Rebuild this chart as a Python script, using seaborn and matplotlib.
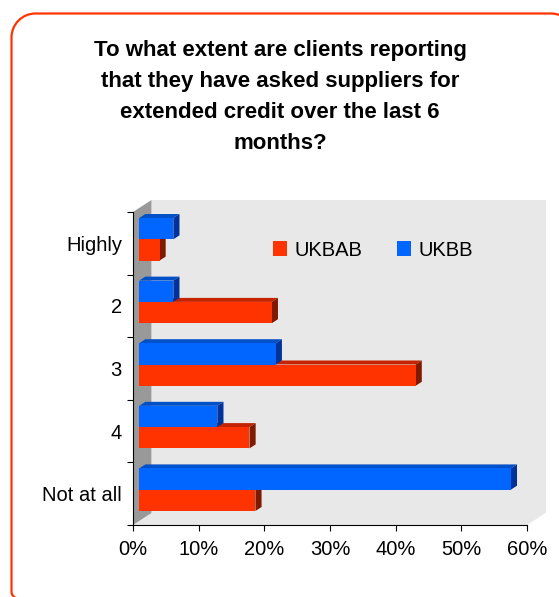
import matplotlib
matplotlib.use("Agg")
import matplotlib.pyplot as plt
import matplotlib.transforms as mtransforms
from matplotlib.patches import Polygon, Rectangle, PathPatch
from matplotlib.path import Path
import numpy as np
import pandas as pd
import seaborn as sns

# ---- data -------------------------------------------------------------
categories = ["Highly", "2", "3", "4", "Not at all"]
ukbab = [3.1, 20.2, 42.1, 16.8, 17.7]
ukbb = [5.2, 5.2, 20.8, 11.9, 56.6]
x_ticks = [0, 10, 20, 30, 40, 50, 60]
x_tick_labels = ["0%", "10%", "20%", "30%", "40%", "50%", "60%"]
series_names = ["UKBAB", "UKBB"]
title = ("To what extent are clients reporting\n"
         "that they have asked suppliers for\n"
         "extended credit over the last 6\n"
         "months?")

# ---- styling ----------------------------------------------------------
front = {"UKBAB": "#FF3300", "UKBB": "#0066FF"}
top_c = {"UKBAB": "#C42400", "UKBB": "#0050C8"}
side_c = {"UKBAB": "#7F1A00", "UKBB": "#003399"}
border_red = "#FF3300"

sns.set_theme(style="white")
plt.rcParams["font.family"] = ["Liberation Sans", "DejaVu Sans"]
plt.rcParams["text.color"] = "black"

W, H = 559, 597
fig = plt.figure(figsize=(W / 100, H / 100), dpi=100)
fig.patch.set_facecolor("white")


def rounded_frame(left, top, right, bottom, r):
    """Closed rounded-rectangle path, pixel coords with y measured downward."""
    k = 0.5523 * r
    pts, codes = [], []

    def mv(x, y):
        pts.append((x, H - y)); codes.append(Path.MOVETO)

    def ln(x, y):
        pts.append((x, H - y)); codes.append(Path.LINETO)

    def cb(c1, c2, e):
        for (x, y) in (c1, c2, e):
            pts.append((x, H - y)); codes.append(Path.CURVE4)

    mv(left + r, top)
    ln(right - r, top)
    cb((right - r + k, top), (right, top + r - k), (right, top + r))
    ln(right, bottom - r)
    cb((right, bottom - r + k), (right - r + k, bottom), (right - r, bottom))
    ln(left + r, bottom)
    cb((left + r - k, bottom), (left, bottom - r + k), (left, bottom - r))
    ln(left, top + r)
    cb((left, top + r - k), (left + r - k, top), (left + r, top))
    return Path(pts, codes)


frame = PathPatch(rounded_frame(11.5, 13.5, 575, 615, 24),
                  transform=mtransforms.IdentityTransform(),
                  facecolor="none", edgecolor=border_red, linewidth=1.6)
fig.add_artist(frame)

fig.text(280 / W, 1 - 97 / H, title, ha="center", va="center",
         fontsize=16, fontweight="bold", linespacing=1.62, color="black")

# axes = front plane of the 3D box
ax = fig.add_axes([133 / W, 1 - 525 / H, (527 - 133) / W, (525 - 212) / H])
ax.set_facecolor("none")

df = pd.DataFrame({
    "category": categories * 2,
    "series": ["UKBB"] * len(categories) + ["UKBAB"] * len(categories),
    "share": ukbb + ukbab,
})

sns.barplot(data=df, x="share", y="category", hue="series",
            hue_order=["UKBB", "UKBAB"], order=categories,
            palette=front, saturation=1, width=0.68, orient="h",
            linewidth=0, legend=False, ax=ax)

ax.set_xlim(0, 60)
ax.set_ylim(len(categories) - 0.5, -0.5)

# ---- 3D box (walls & floor) in display pixels -------------------------
ident = mtransforms.IdentityTransform()
bb = ax.bbox
x0, y0, x1, y1 = bb.x0, bb.y0, bb.x1, bb.y1
DX, DY = 18.5, 12.0  # full depth of the box

back = Rectangle((x0 + DX, y0 + DY), x1 - x0, y1 - y0, transform=ident,
                 facecolor="#E8E8E8", edgecolor="none", zorder=0.2, clip_on=False)
floor = Polygon([(x0, y0), (x1, y0), (x1 + DX, y0 + DY), (x0 + DX, y0 + DY)],
                closed=True, transform=ident, facecolor="#E8E8E8",
                edgecolor="none", zorder=0.3, clip_on=False)
wall = Polygon([(x0, y0), (x0, y1), (x0 + DX, y1 + DY), (x0 + DX, y0 + DY)],
               closed=True, transform=ident, facecolor="#999999",
               edgecolor="none", zorder=0.4, clip_on=False)
for p in (back, floor, wall):
    ax.add_patch(p)

# ---- extrude bars ------------------------------------------------------
fx, fy = DX / 3, DY / 3     # front face sits one third into the box
bx, by = DX / 3, DY / 3     # bar depth
shift = mtransforms.Affine2D().translate(fx, fy)

color_to_series = {matplotlib.colors.to_hex(v).lower(): k for k, v in front.items()}
bars = [p for p in ax.patches if isinstance(p, Rectangle) and p is not back]
for p in bars:
    key = matplotlib.colors.to_hex(p.get_facecolor()).lower()
    if key not in color_to_series:
        continue
    s = color_to_series[key]
    z = 3 if s == "UKBAB" else 4
    (ax0, ay0) = ax.transData.transform((p.get_x(), p.get_y()))
    (ax1, ay1) = ax.transData.transform((p.get_x() + p.get_width(),
                                         p.get_y() + p.get_height()))
    left, right = min(ax0, ax1) + fx, max(ax0, ax1) + fx
    bot, topy = min(ay0, ay1) + fy, max(ay0, ay1) + fy
    top_face = Polygon([(left, topy), (right, topy), (right + bx, topy + by),
                        (left + bx, topy + by)], closed=True, transform=ident,
                       facecolor=top_c[s], edgecolor="none", zorder=z, clip_on=False)
    side_face = Polygon([(right, bot), (right, topy), (right + bx, topy + by),
                         (right + bx, bot + by)], closed=True, transform=ident,
                        facecolor=side_c[s], edgecolor="none", zorder=z, clip_on=False)
    ax.add_patch(top_face)
    ax.add_patch(side_face)
    p.set_transform(ax.transData + shift)
    p.set_zorder(z + 0.1)
    p.set_clip_on(False)

# ---- axes, ticks ------------------------------------------------------
for side in ("top", "right"):
    ax.spines[side].set_visible(False)
for side in ("left", "bottom"):
    ax.spines[side].set_visible(True)
    ax.spines[side].set_color("black")
    ax.spines[side].set_linewidth(0.8)
    ax.spines[side].set_zorder(5)

ax.set_xticks(x_ticks)
ax.set_xticklabels(x_tick_labels, fontsize=14.5)
ax.tick_params(axis="x", which="major", direction="out", length=4.5,
               width=0.8, color="black", pad=6.5, bottom=True,
               labelcolor="black")

n = len(categories)
ax.set_yticks(np.arange(-0.5, n, 1.0))
ax.set_yticklabels([])
ax.set_yticks(np.arange(n), minor=True)
ax.set_yticklabels(categories, minor=True, fontsize=14.5)
ax.tick_params(axis="y", which="major", direction="out", length=4.5,
               width=0.8, color="black", left=True)
ax.tick_params(axis="y", which="minor", length=0, pad=8, left=True,
               labelcolor="black")
ax.set_xlabel("")
ax.set_ylabel("")

handles = [Rectangle((0, 0), 1, 1, facecolor=front[s], edgecolor="none")
           for s in series_names]
leg = ax.legend(handles, series_names, loc="center",
                bbox_to_anchor=(373 / W, 1 - 250 / H),
                bbox_transform=fig.transFigure, ncol=2, frameon=False,
                fontsize=14.5, handlelength=0.7, handleheight=0.7,
                handletextpad=0.35, columnspacing=1.75, labelcolor="black")
leg.set_zorder(6)

fig.savefig("out.png", dpi=100)
